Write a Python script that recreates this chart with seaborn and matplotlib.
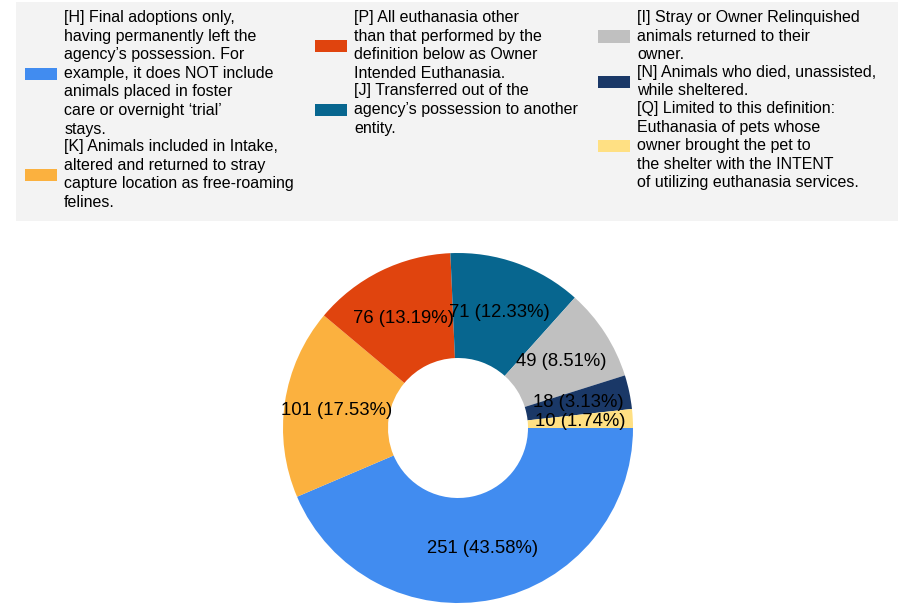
import math
import matplotlib
matplotlib.use("Agg")
import matplotlib.pyplot as plt
from matplotlib.patches import Patch, Rectangle
import seaborn as sns

categories = ["H", "K", "P", "J", "I", "N", "Q"]
counts = [251, 101, 76, 71, 49, 18, 10]
colors = ["#418CF0", "#FBB13F", "#E0440E", "#07668F", "#C0C0C0", "#1A3867", "#FFE083"]
legend_labels = [
    "[H] Final adoptions only,\nhaving permanently left the\nagency\u2019s possession. For\n"
    "example, it does NOT include\nanimals placed in foster\ncare or overnight \u2018trial\u2019\nstays.",
    "[K] Animals included in Intake,\naltered and returned to stray\n"
    "capture location as free-roaming\nfelines.",
    "[P] All euthanasia other\nthan that performed by the\ndefinition below as Owner\nIntended Euthanasia.",
    "[J] Transferred out of the\nagency\u2019s possession to another\nentity.",
    "[I] Stray or Owner Relinquished\nanimals returned to their\nowner.",
    "[N] Animals who died, unassisted,\nwhile sheltered.",
    "[Q] Limited to this definition:\nEuthanasia of pets whose\nowner brought the pet to\n"
    "the shelter with the INTENT\nof utilizing euthanasia services.",
]
# which legend column each entry sits in
legend_cols = [[0, 1], [2, 3], [4, 5, 6]]

sns.set_theme(style="white")
plt.rcParams["font.family"] = ["Liberation Sans", "DejaVu Sans"]
plt.rcParams["text.color"] = "black"

total = sum(counts)


def pct_label(p):
    n = int(round(p * total / 100))
    p2 = math.floor(p * 100 + 0.5) / 100
    return f"{n} ({p2:.2f}%)"


W, H = 898, 604
fig = plt.figure(figsize=(W / 100, H / 100), dpi=100)

# legend background
fig.patches.append(Rectangle((16 / W, 1 - 221 / H), (W - 16) / W, 219 / H,
                             transform=fig.transFigure, facecolor="#F3F3F3",
                             edgecolor="none", zorder=0))

ax = fig.add_axes([283 / W, 1 / H, 350 / W, 350 / H])
wedges, texts, autotexts = ax.pie(
    counts, colors=colors, startangle=0, counterclock=False,
    autopct=pct_label, pctdistance=0.7,
    wedgeprops=dict(width=0.6, linewidth=0),
    textprops=dict(fontsize=13.3, color="black"),
)
for w in wedges:
    w.set_clip_on(False)
ax.set_xlim(-1, 1)
ax.set_ylim(-1, 1)
ax.set_aspect("equal")

col_x = [25, 315, 598]
for cx, idxs in zip(col_x, legend_cols):
    handles = [Patch(facecolor=colors[i], edgecolor="none") for i in idxs]
    labels = [legend_labels[i] for i in idxs]
    leg = fig.legend(handles, labels, loc="upper left",
                     bbox_to_anchor=(cx / W, 1 - 10 / H),
                     frameon=False, fontsize=11.5, handlelength=2.0,
                     handleheight=0.8, handletextpad=0.45,
                     labelspacing=0.16, borderpad=0, borderaxespad=0)
    for t in leg.get_texts():
        t.set_linespacing(1.30)
        t.set_color("black")

fig.savefig("out.png", dpi=100)
